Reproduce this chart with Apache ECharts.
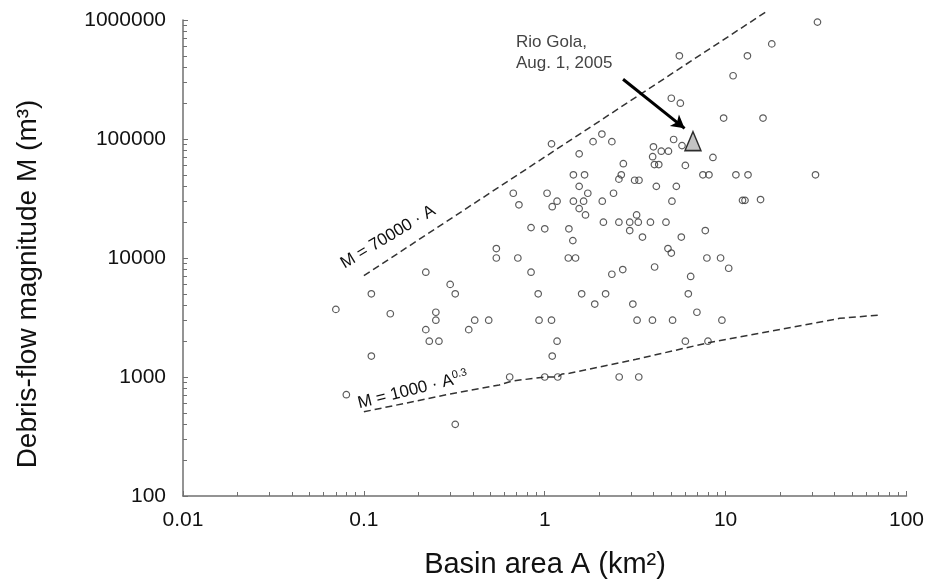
<!DOCTYPE html>
<html>
<head>
<meta charset="utf-8">
<script src="https://cdn.jsdelivr.net/npm/echarts@6/dist/echarts.min.js"></script>
<style>
html,body{margin:0;padding:0;background:#fff;}
#chart{width:927px;height:585px;}
</style>
</head>
<body>
<div id="chart"></div>
<script>
// Basin area A (km2) and debris-flow magnitude M (m3) of recorded events
const basinArea = [
  0.22,0.11,0.07,0.14,0.30,0.32,0.25,0.25,0.22,0.23,0.26,0.38,0.41,0.49,0.11,0.08,0.32,0.54,0.54,
  1.09,1.55,1.85,2.07,2.35,2.72,2.65,2.57,3.14,1.44,1.66,1.55,1.73,0.67,0.72,1.03,1.17,1.10,1.44,1.64,
  1.55,1.68,2.08,2.40,2.11,2.57,2.95,2.95,3.22,3.29,0.84,1.00,1.36,1.43,0.71,1.35,1.48,
  0.84,2.35,2.70,0.92,1.60,2.17,1.89,3.07,0.93,1.09,3.24,1.17,1.10,0.64,1.00,1.18,2.58,3.31,
  32.2,18.0,13.2,5.55,11.0,5.01,5.62,9.75,16.1,5.16,3.99,4.41,4.83,5.74,3.95,4.04,4.27,5.99,8.51,
  3.32,4.14,5.34,7.49,8.09,11.4,13.3,31.4,12.4,12.8,15.6,5.05,
  3.84,4.68,3.47,5.69,7.72,4.80,5.01,7.88,9.38,10.4,4.05,6.41,6.22,3.94,5.09,6.94,9.54,5.99,7.99
];
const debrisMagnitude = [
  7600,5000,3700,3400,6000,5000,3500,3000,2500,2000,2000,2500,3000,3000,1500,710,400,12000,10000,
  91000,75000,95000,110000,95000,62000,50000,46000,45000,50000,50000,40000,35000,35000,28000,35000,30000,27000,30000,30000,
  26000,23000,30000,35000,20000,20000,20000,17000,23000,20000,18000,17600,17600,14000,10000,10000,10000,
  7600,7300,8000,5000,5000,5000,4100,4100,3000,3000,3000,2000,1500,1000,1000,1000,1000,1000,
  960000,630000,500000,500000,340000,220000,200000,150000,150000,99000,86000,79000,79000,88000,71000,61000,61000,60000,70000,
  45000,40000,40000,50000,50000,50000,50000,50000,30500,30500,31000,30000,
  20000,20000,15000,15000,17000,12000,11000,10000,10000,8200,8400,7000,5000,3000,3000,3500,3000,2000,2000
];

// Rio Gola event, Aug. 1, 2005
const rioGolaArea = [6.6];
const rioGolaMagnitude = [96000];

// Envelope lines
const upperLineArea = [0.1, 16.8];
const upperLineMagnitude = [7100, 1176000];
const lowerLineArea = [0.1, 0.3, 0.56, 0.66, 1.0, 1.18, 1.25, 1.37, 3.2, 7.9, 42.7, 71];
const lowerLineMagnitude = [510, 720, 857, 925, 1000, 1000, 1060, 1074, 1408, 1931, 3110, 3320];

// Arrow pointing at Rio Gola (start, end)
const arrowArea = [2.71, 5.93];
const arrowMagnitude = [317500, 123000];

// Tick labels
const xTickLabels = ['0.01', '0.1', '1', '10', '100'];
const yTickLabels = ['100', '1000', '10000', '100000', '1000000'];

const zip = (a, b) => a.map((v, i) => [v, b[i]]);

const chart = echarts.init(document.getElementById('chart'), null, {renderer: 'canvas'});
const FONT = '"Liberation Sans", Arial, sans-serif';

const option = {
  animation: false,
  backgroundColor: '#ffffff',
  grid: {left: 183, top: 20, right: 20, bottom: 89, containLabel: false},
  xAxis: {
    type: 'log', logBase: 10, min: 0.01, max: 100, interval: 1,
    axisLine: {show: true, lineStyle: {color: '#707070', width: 1.5}},
    axisTick: {show: true, inside: true, length: 5, lineStyle: {color: '#707070', width: 1}},
    minorTick: {show: true, splitNumber: 9, length: 4, lineStyle: {color: '#707070', width: 1}},
    splitLine: {show: false}, minorSplitLine: {show: false},
    axisLabel: {
      margin: 14, color: '#111', fontSize: 21, fontFamily: FONT,
      formatter: v => { const k = Math.round(Math.log10(v)) + 2; return xTickLabels[k] !== undefined ? xTickLabels[k] : ''; }
    }
  },
  yAxis: {
    type: 'log', logBase: 10, min: 100, max: 1000000, interval: 1,
    axisLine: {show: true, lineStyle: {color: '#707070', width: 1.5}},
    axisTick: {show: true, inside: true, length: 5, lineStyle: {color: '#707070', width: 1}},
    minorTick: {show: true, splitNumber: 9, length: 4, lineStyle: {color: '#707070', width: 1}},
    splitLine: {show: false}, minorSplitLine: {show: false},
    axisLabel: {
      margin: 17, color: '#111', fontSize: 21, fontFamily: FONT,
      formatter: v => { const k = Math.round(Math.log10(v)) - 2; return yTickLabels[k] !== undefined ? yTickLabels[k] : ''; }
    }
  },
  series: [
    {
      type: 'scatter', name: 'events', data: zip(basinArea, debrisMagnitude),
      symbol: 'circle', symbolSize: 6.5, z: 3,
      itemStyle: {color: 'rgba(255,255,255,0)', borderColor: '#333', borderWidth: 1.2}
    },
    {
      type: 'line', name: 'upper', data: zip(upperLineArea, upperLineMagnitude),
      showSymbol: false, symbol: 'none', clip: false, z: 2,
      lineStyle: {color: '#333', width: 1.5, type: [7, 4]}
    },
    {
      type: 'line', name: 'lower', data: zip(lowerLineArea, lowerLineMagnitude),
      showSymbol: false, symbol: 'none', clip: false, z: 2,
      lineStyle: {color: '#333', width: 1.5, type: [7, 4]}
    },
    {
      type: 'scatter', name: 'Rio Gola', data: zip(rioGolaArea, rioGolaMagnitude),
      symbol: 'triangle', symbolSize: [16, 19], z: 5,
      itemStyle: {color: '#b4b4b4', borderColor: '#000', borderWidth: 1.5},
      markLine: {
        silent: true, symbol: ['none', 'arrow'], symbolSize: [11, 13],
        label: {show: false},
        lineStyle: {color: '#000', width: 3, type: 'solid'},
        data: [[{coord: [arrowArea[0], arrowMagnitude[0]]}, {coord: [arrowArea[1], arrowMagnitude[1]]}]]
      }
    }
  ],
  graphic: [
    {type: 'text', x: 516, y: 42, style: {text: 'Rio Gola,', font: '17px ' + FONT, fill: '#444', textVerticalAlign: 'middle'}},
    {type: 'text', x: 516, y: 63, style: {text: 'Aug. 1, 2005', font: '17px ' + FONT, fill: '#444', textVerticalAlign: 'middle'}},
    {type: 'text', x: 388, y: 237, rotation: 31 * Math.PI / 180,
      style: {text: 'M = 70000 · A', font: '17px ' + FONT, fill: '#111', textAlign: 'center', textVerticalAlign: 'middle'}},
    {type: 'text', x: 413, y: 390, rotation: 14 * Math.PI / 180,
      style: {text: '{a|M = 1000 · A}{s|0.3}', textAlign: 'center', textVerticalAlign: 'middle',
        rich: {a: {fontSize: 17, fontFamily: FONT, fill: '#111', color: '#111', lineHeight: 20},
               s: {fontSize: 11, fontFamily: FONT, fill: '#111', color: '#111', lineHeight: 11, verticalAlign: 'top'}}}},
    {type: 'text', x: 545, y: 565, style: {text: 'Basin area A (km²)', font: '29px ' + FONT, fill: '#111', textAlign: 'center', textVerticalAlign: 'middle'}},
    {type: 'text', x: 28, y: 284, rotation: Math.PI / 2,
      style: {text: 'Debris-flow magnitude M (m³)', font: '28px ' + FONT, fill: '#111', textAlign: 'center', textVerticalAlign: 'middle'}}
  ]
};
chart.setOption(option);
</script>
</body>
</html>
